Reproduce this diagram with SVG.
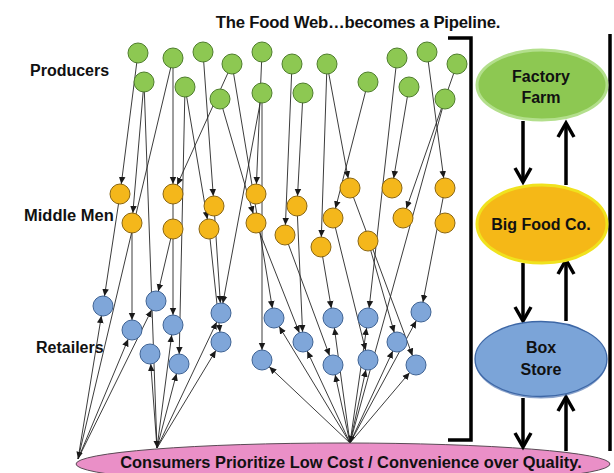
<svg xmlns="http://www.w3.org/2000/svg" width="614" height="473" viewBox="0 0 614 473">
<defs>
<style>
.p{fill:#8dc852;stroke:#4e7d2c;stroke-width:1}
.m{fill:#f4b71b;stroke:#8a6612;stroke-width:1}
.r{fill:#7fa6d9;stroke:#3f6394;stroke-width:1}
#edges line{stroke:#262626;stroke-width:0.9;marker-end:url(#a)}
#edges line.c{marker-end:url(#c)}
.lbl{font-family:"Liberation Sans",Arial,sans-serif;font-weight:bold;fill:#111}
.thick{stroke:#000;stroke-width:3.5;fill:none;stroke-linejoin:miter}
</style>
<marker id="a" markerUnits="userSpaceOnUse" markerWidth="18" markerHeight="8" viewBox="0 -4 18 8" refX="17.2" refY="0" orient="auto"><path d="M0,-3.3L7.2,0L0,3.3z" fill="#1a1a1a"/></marker>
<marker id="c" markerUnits="userSpaceOnUse" markerWidth="8" markerHeight="8" viewBox="0 -4 8 8" refX="7.2" refY="0" orient="auto"><path d="M0,-3.3L7.2,0L0,3.3z" fill="#1a1a1a"/></marker>
</defs>
<rect width="614" height="473" fill="#fff"/>

<text class="lbl" x="358" y="28" font-size="16.7" text-anchor="middle" letter-spacing="-0.2">The Food Web…becomes a Pipeline.</text>
<text class="lbl" x="30" y="76" font-size="16">Producers</text>
<text class="lbl" x="24" y="221" font-size="16.5">Middle Men</text>
<text class="lbl" x="36" y="353" font-size="16">Retailers</text>

<g id="edges">
<line x1="138" y1="53" x2="120" y2="194"/>
<line x1="144" y1="82" x2="132" y2="223"/>
<line x1="173" y1="58" x2="173" y2="194"/>
<line x1="232" y1="64" x2="173" y2="194"/>
<line x1="203" y1="52" x2="214" y2="206"/>
<line x1="185" y1="87" x2="209" y2="229"/>
<line x1="262" y1="52" x2="256" y2="194"/>
<line x1="220" y1="99" x2="256" y2="223"/>
<line x1="303" y1="93" x2="297" y2="206"/>
<line x1="292" y1="64" x2="285" y2="235"/>
<line x1="327" y1="64" x2="321" y2="247"/>
<line x1="368" y1="82" x2="333" y2="218"/>
<line x1="327" y1="64" x2="350" y2="188"/>
<line x1="409" y1="87" x2="392" y2="188"/>
<line x1="457" y1="64" x2="403" y2="218"/>
<line x1="427" y1="52" x2="445" y2="188"/>
<line x1="185" y1="87" x2="179" y2="364"/>
<line x1="262" y1="93" x2="262" y2="360"/>
<line x1="262" y1="93" x2="221" y2="313"/>
<line x1="232" y1="64" x2="274" y2="318"/>
<line x1="397" y1="58" x2="368" y2="318"/>
<line x1="120" y1="194" x2="103" y2="306"/>
<line x1="132" y1="223" x2="132" y2="330"/>
<line x1="173" y1="229" x2="156" y2="301"/>
<line x1="173" y1="194" x2="173" y2="325"/>
<line x1="214" y1="206" x2="221" y2="313"/>
<line x1="209" y1="229" x2="221" y2="342"/>
<line x1="256" y1="223" x2="303" y2="342"/>
<line x1="297" y1="206" x2="303" y2="342"/>
<line x1="285" y1="235" x2="333" y2="365"/>
<line x1="321" y1="247" x2="333" y2="318"/>
<line x1="333" y1="218" x2="368" y2="360"/>
<line x1="350" y1="188" x2="416" y2="365"/>
<line x1="368" y1="241" x2="397" y2="342"/>
<line x1="445" y1="188" x2="421" y2="312"/>
<line x1="78" y1="459" x2="103" y2="306"/>
<line x1="78" y1="459" x2="132" y2="330"/>
<line x1="78" y1="459" x2="156" y2="301"/>
<line x1="157" y1="448" x2="150" y2="354"/>
<line x1="157" y1="448" x2="173" y2="325"/>
<line x1="157" y1="448" x2="179" y2="364"/>
<line x1="157" y1="448" x2="221" y2="313"/>
<line x1="157" y1="448" x2="221" y2="342"/>
<line x1="350" y1="443" x2="262" y2="360"/>
<line x1="350" y1="443" x2="274" y2="318"/>
<line x1="350" y1="443" x2="303" y2="342"/>
<line x1="350" y1="443" x2="333" y2="318"/>
<line x1="350" y1="443" x2="333" y2="365"/>
<line x1="350" y1="443" x2="368" y2="318"/>
<line x1="350" y1="443" x2="368" y2="360"/>
<line x1="350" y1="443" x2="397" y2="342"/>
<line x1="350" y1="443" x2="421" y2="312"/>
<line x1="350" y1="443" x2="416" y2="365"/>
<line class="c" x1="173" y1="58" x2="78" y2="459"/>
<line class="c" x1="144" y1="82" x2="157" y2="448"/>
<line class="c" x1="445" y1="99" x2="350" y2="443"/>
</g>

<g id="producers">
<g id="p1"><circle class="p" cx="138" cy="53" r="10"/></g>
<g id="p2"><circle class="p" cx="144" cy="82" r="10"/></g>
<g id="p3"><circle class="p" cx="173" cy="58" r="10"/></g>
<g id="p4"><circle class="p" cx="203" cy="52" r="10"/></g>
<g id="p5"><circle class="p" cx="185" cy="87" r="10"/></g>
<g id="p6"><circle class="p" cx="232" cy="64" r="10"/></g>
<g id="p7"><circle class="p" cx="220" cy="99" r="10"/></g>
<g id="p8"><circle class="p" cx="262" cy="52" r="10"/></g>
<g id="p9"><circle class="p" cx="262" cy="93" r="10"/></g>
<g id="p10"><circle class="p" cx="292" cy="64" r="10"/></g>
<g id="p11"><circle class="p" cx="303" cy="93" r="10"/></g>
<g id="p12"><circle class="p" cx="327" cy="64" r="10"/></g>
<g id="p13"><circle class="p" cx="368" cy="82" r="10"/></g>
<g id="p14"><circle class="p" cx="397" cy="58" r="10"/></g>
<g id="p15"><circle class="p" cx="409" cy="87" r="10"/></g>
<g id="p16"><circle class="p" cx="427" cy="52" r="10"/></g>
<g id="p17"><circle class="p" cx="457" cy="64" r="10"/></g>
<g id="p18"><circle class="p" cx="445" cy="99" r="10"/></g>
</g>

<g id="middlemen">
<g id="m1"><circle class="m" cx="120" cy="194" r="10"/></g>
<g id="m2"><circle class="m" cx="132" cy="223" r="10"/></g>
<g id="m3"><circle class="m" cx="173" cy="194" r="10"/></g>
<g id="m4"><circle class="m" cx="173" cy="229" r="10"/></g>
<g id="m5"><circle class="m" cx="214" cy="206" r="10"/></g>
<g id="m6"><circle class="m" cx="209" cy="229" r="10"/></g>
<g id="m7"><circle class="m" cx="256" cy="194" r="10"/></g>
<g id="m8"><circle class="m" cx="256" cy="223" r="10"/></g>
<g id="m9"><circle class="m" cx="297" cy="206" r="10"/></g>
<g id="m10"><circle class="m" cx="285" cy="235" r="10"/></g>
<g id="m11"><circle class="m" cx="321" cy="247" r="10"/></g>
<g id="m12"><circle class="m" cx="333" cy="218" r="10"/></g>
<g id="m13"><circle class="m" cx="350" cy="188" r="10"/></g>
<g id="m14"><circle class="m" cx="368" cy="241" r="10"/></g>
<g id="m15"><circle class="m" cx="392" cy="188" r="10"/></g>
<g id="m16"><circle class="m" cx="403" cy="218" r="10"/></g>
<g id="m17"><circle class="m" cx="445" cy="188" r="10"/></g>
<g id="m18"><circle class="m" cx="445" cy="223" r="10"/></g>
</g>

<g id="retailers">
<g id="r1"><circle class="r" cx="103" cy="306" r="10"/></g>
<g id="r2"><circle class="r" cx="132" cy="330" r="10"/></g>
<g id="r3"><circle class="r" cx="156" cy="301" r="10"/></g>
<g id="r4"><circle class="r" cx="150" cy="354" r="10"/></g>
<g id="r5"><circle class="r" cx="173" cy="325" r="10"/></g>
<g id="r6"><circle class="r" cx="179" cy="364" r="10"/></g>
<g id="r7"><circle class="r" cx="221" cy="313" r="10"/></g>
<g id="r8"><circle class="r" cx="221" cy="342" r="10"/></g>
<g id="r9"><circle class="r" cx="262" cy="360" r="10"/></g>
<g id="r10"><circle class="r" cx="274" cy="318" r="10"/></g>
<g id="r11"><circle class="r" cx="303" cy="342" r="10"/></g>
<g id="r12"><circle class="r" cx="333" cy="318" r="10"/></g>
<g id="r13"><circle class="r" cx="333" cy="365" r="10"/></g>
<g id="r14"><circle class="r" cx="368" cy="318" r="10"/></g>
<g id="r15"><circle class="r" cx="368" cy="360" r="10"/></g>
<g id="r16"><circle class="r" cx="397" cy="342" r="10"/></g>
<g id="r17"><circle class="r" cx="421" cy="312" r="10"/></g>
<g id="r18"><circle class="r" cx="416" cy="365" r="10"/></g>
</g>

<g id="consumers">
<ellipse cx="343" cy="464" rx="267" ry="21" fill="#ea8fc7" stroke="#5a4a55" stroke-width="1"/>
<text class="lbl" x="351" y="468" font-size="16.4" text-anchor="middle">Consumers Prioritize Low Cost / Convenience over Quality.</text>
</g>

<g id="bracket">
<path class="thick" d="M448,38 H471 V440 H448"/>
<line class="thick" x1="610" y1="34" x2="610" y2="451"/>
</g>

<g id="pipeline-arrows">
<line class="thick" x1="523" y1="121" x2="523" y2="182"/>
<polyline class="thick" points="515,168 523,182 531,168"/>
<line class="thick" x1="566" y1="185" x2="566" y2="123"/>
<polyline class="thick" points="558,137 566,123 574,137"/>
<line class="thick" x1="523" y1="263" x2="523" y2="321"/>
<polyline class="thick" points="515,307 523,321 531,307"/>
<line class="thick" x1="566" y1="321" x2="566" y2="260"/>
<polyline class="thick" points="558,274 566,260 574,274"/>
<line class="thick" x1="523" y1="398" x2="523" y2="447"/>
<polyline class="thick" points="515,433 523,447 531,433"/>
<line class="thick" x1="566" y1="451" x2="566" y2="397"/>
<polyline class="thick" points="558,411 566,397 574,411"/>
</g>

<g id="factory-farm">
<ellipse cx="542" cy="85" rx="65" ry="35" fill="#8dc852" stroke="#b3df8c" stroke-width="3"/>
<text class="lbl" x="541" y="82" font-size="16" text-anchor="middle">Factory</text>
<text class="lbl" x="541" y="103" font-size="16" text-anchor="middle">Farm</text>
</g>
<g id="big-food">
<ellipse cx="542" cy="224" rx="65" ry="39" fill="#f5b817" stroke="#f0e21e" stroke-width="3"/>
<text class="lbl" x="541" y="230" font-size="16" text-anchor="middle">Big Food Co.</text>
</g>
<g id="box-store">
<ellipse cx="541" cy="361" rx="66" ry="37.5" fill="#3d66a8" opacity="0.6"/>
<ellipse cx="541" cy="359" rx="66" ry="37.5" fill="#7ba4d8" stroke="#3d67a6" stroke-width="1.3"/>
<text class="lbl" x="541" y="353" font-size="16" text-anchor="middle">Box</text>
<text class="lbl" x="541" y="375" font-size="16" text-anchor="middle">Store</text>
</g>
</svg>
